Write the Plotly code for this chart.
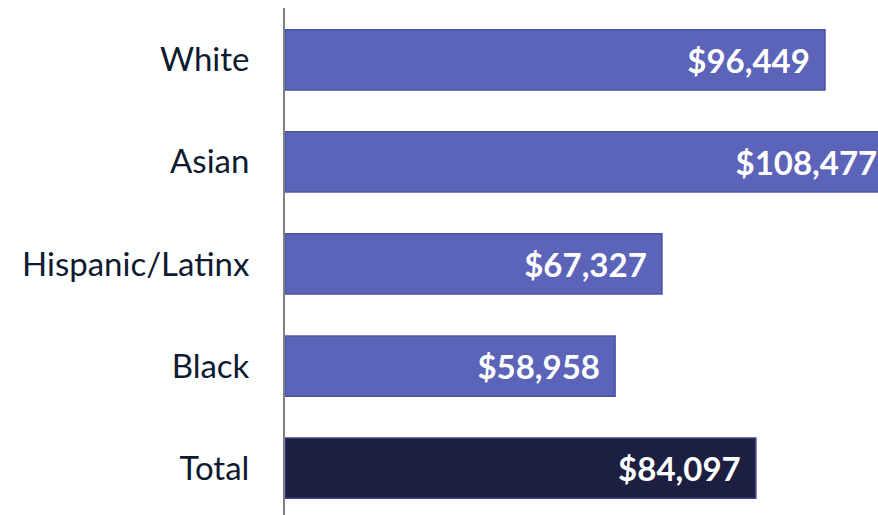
import plotly.graph_objects as go

categories = ["Total", "Black", "Hispanic/Latinx", "Asian", "White"]
values = [84097, 58958, 67327, 108477, 96449]
fill_colors = ["#1D1F40", "#5B64B8", "#5B64B8", "#5B64B8", "#5B64B8"]
line_colors = ["#3C4390", "#4A53A3", "#4A53A3", "#4A53A3", "#4A53A3"]

labels = ["${:,}".format(v) + "\u00a0\u2009" for v in values]

fig = go.Figure(go.Bar(
    y=categories, x=values, orientation="h",
    marker=dict(color=fill_colors, line=dict(color=line_colors, width=1.5)),
    width=0.59,
    text=labels, textposition="inside", insidetextanchor="end",
    textfont=dict(family="Lato", size=33, color="white", weight="bold"),
    constraintext="none",
))

fig.update_layout(
    width=878, height=515,
    margin=dict(l=285, r=0, t=8, b=0),
    plot_bgcolor="white", paper_bgcolor="white",
    showlegend=False,
    xaxis=dict(range=[0, 105915], visible=False, showgrid=False, zeroline=False),
    yaxis=dict(range=[-0.459, 4.507], showline=True, linecolor="#808080", linewidth=2,
               showgrid=False, ticks="outside", ticklen=27, tickcolor="rgba(0,0,0,0)",
               tickfont=dict(family="Lato", size=33, color="#0E1A30")),
)
fig.write_html("out.html", config={"displayModeBar": False},
               post_script="document.body.style.margin='0';")
